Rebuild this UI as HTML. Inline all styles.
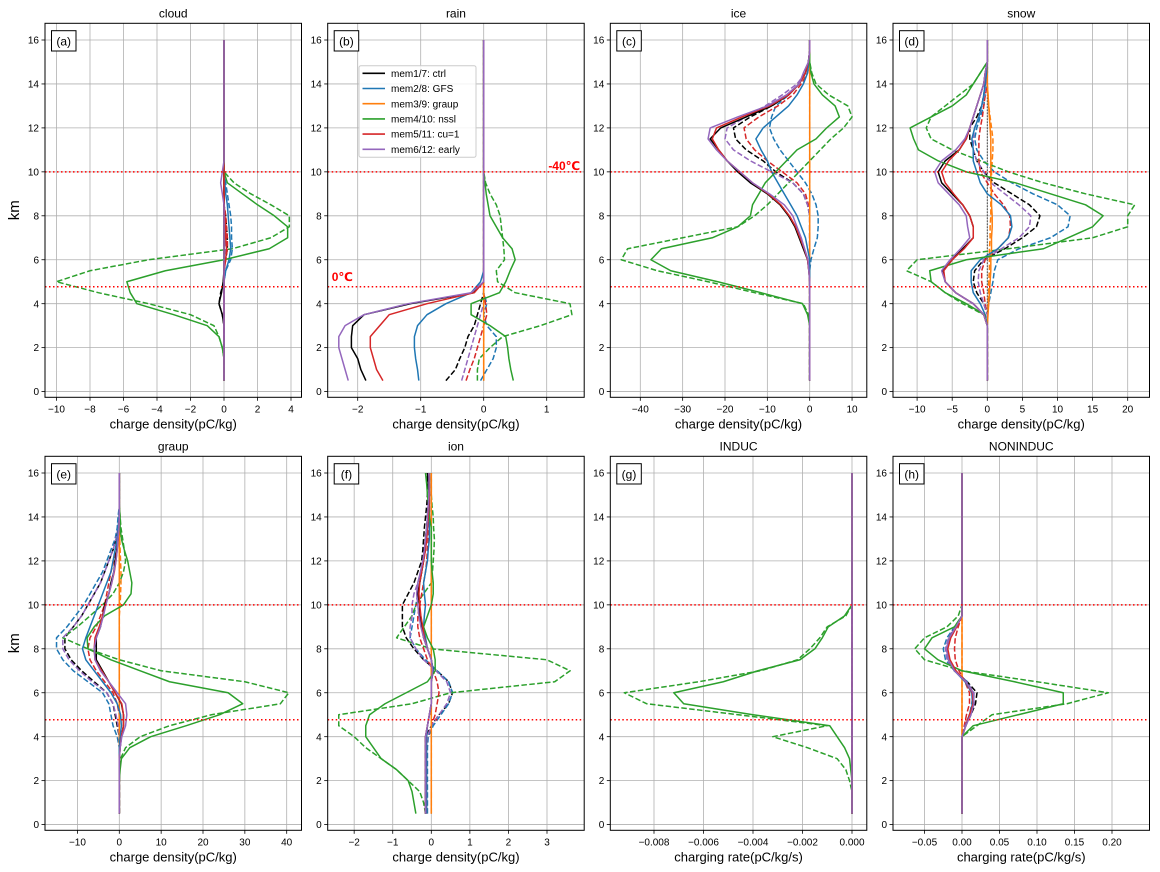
<!DOCTYPE html>
<html><head><meta charset="utf-8">
<style>
html,body{margin:0;padding:0;background:#fff;}
svg{display:block;font-family:"Liberation Sans","DejaVu Sans",sans-serif;}
</style></head>
<body>
<svg id="fig" width="1160" height="872" viewBox="0 0 1160 872" xmlns="http://www.w3.org/2000/svg"></svg>
<script>
// heights (km) for every profile
const heights = [0.5,1,1.5,2,2.5,3,3.5,4,4.5,5,5.5,6,6.5,7,7.5,8,8.5,9,9.5,10,10.5,11,11.5,12,12.5,13,13.5,14,14.5,15,15.5,16];
const memberLabels = ["mem1/7: ctrl","mem2/8: GFS","mem3/9: graup","mem4/10: nssl","mem5/11: cu=1","mem6/12: early"];
const panelTitles = ["cloud","rain","ice","snow","graup","ion","INDUC","NONINDUC"];
const panelLetters = ["(a)","(b)","(c)","(d)","(e)","(f)","(g)","(h)"];
const yTicks = [0,2,4,6,8,10,12,14,16];
const tickA = [-10,-8,-6,-4,-2,0,2,4];
const tickB = [-2,-1,0,1];
const tickC = [-40,-30,-20,-10,0,10];
const tickD = [-10,-5,0,5,10,15,20];
const tickE = [-10,0,10,20,30,40];
const tickF = [-2,-1,0,1,2,3];
const tickG = [-0.008,-0.006,-0.004,-0.002,0];
const tickH = [-0.05,0,0.05,0.10,0.15,0.20];
const freezeLevels = [10, 4.77];

// series order: ctrl(black), GFS(blue), graup(orange), nssl(green), cu=1(red), early(purple)
const cloudSolid = [
[0,0,0,0,0,0,-0.1,-0.3,-0.15,-0.05,0,0,0,0,0,0,0,0,0,0,0,0,0,0,0,0,0,0,0,0,0,0],
[0,0,0,0,0,0,0,0,0,0,0.1,0.3,0.4,0.35,0.3,0.25,0.2,0.1,0.05,0,0,0,0,0,0,0,0,0,0,0,0,0],
[0,0,0,0,0,0,0,0,0,0,0,0,0,0,0,0,0,0,0,0,0,0,0,0,0,0,0,0,0,0,0,0],
[0,0,0,-0.1,-0.3,-1,-3,-5.2,-5.6,-5.8,-3.5,0,2.7,3.8,3.8,3,2,1.1,0.2,0,0,0,0,0,0,0,0,0,0,0,0,0],
[0,0,0,0,0,0,0,0,0,0,0,0.1,0.15,0.1,0.1,0.05,0,0,0,0,0,0,0,0,0,0,0,0,0,0,0,0],
[0,0,0,0,0,0,0,0,0,0,0,0,0,0,0,0,0,-0.1,-0.2,-0.1,0,0,0,0,0,0,0,0,0,0,0,0]];
const cloudDashed = [
[0,0,0,0,0,0,-0.1,-0.3,-0.2,0,0,0.1,0.2,0.2,0.15,0.1,0,0,0,0,0,0,0,0,0,0,0,0,0,0,0,0],
[0,0,0,0,0,0,0,0,0,0,0.1,0.4,0.5,0.45,0.45,0.4,0.3,0.2,0.1,0,0,0,0,0,0,0,0,0,0,0,0,0],
[0,0,0,0,0,0,0,0,0,0,0,0,0,0,0,0,0,0,0,0,0,0,0,0,0,0,0,0,0,0,0,0],
[0,0,0,-0.1,-0.3,-0.6,-2,-4.5,-7.5,-10,-8,-4.5,0.5,2.8,3.9,3.9,2.8,1.6,0.6,0,0,0,0,0,0,0,0,0,0,0,0,0],
[0,0,0,0,0,0,0,0,0,0,0,0.1,0.2,0.2,0.15,0.1,0,0,0,0,0,0,0,0,0,0,0,0,0,0,0,0],
[0,0,0,0,0,0,0,0,0,0,0,0.1,0.1,0.1,0.1,0,0,0,0,0,0,0,0,0,0,0,0,0,0,0,0,0]];

const rainSolid = [
[-1.87,-1.95,-2.0,-2.1,-2.1,-2.08,-1.9,-1.16,-0.16,0,0,0,0,0,0,0,0,0,0,0,0,0,0,0,0,0,0,0,0,0,0,0],
[-1.03,-1.05,-1.08,-1.1,-1.1,-1.05,-0.9,-0.6,-0.2,-0.05,0,0,0,0,0,0,0,0,0,0,0,0,0,0,0,0,0,0,0,0,0,0],
[0,0,0,0,0,0,0,0,0,0,0,0,0,0,0,0,0,0,0,0,0,0,0,0,0,0,0,0,0,0,0,0],
[0.47,0.43,0.4,0.38,0.35,0.1,-0.2,-0.2,0.25,0.35,0.42,0.5,0.45,0.3,0.2,0.1,0.07,0.04,0.02,0,0,0,0,0,0,0,0,0,0,0,0,0],
[-1.6,-1.7,-1.75,-1.8,-1.8,-1.65,-1.5,-0.9,-0.15,0,0,0,0,0,0,0,0,0,0,0,0,0,0,0,0,0,0,0,0,0,0,0],
[-2.15,-2.2,-2.25,-2.3,-2.3,-2.2,-1.9,-1.2,-0.2,0,0,0,0,0,0,0,0,0,0,0,0,0,0,0,0,0,0,0,0,0,0,0]];
const rainDashed = [
[-0.6,-0.45,-0.38,-0.3,-0.25,-0.15,-0.1,-0.05,0,0,0,0,0,0,0,0,0,0,0,0,0,0,0,0,0,0,0,0,0,0,0,0],
[-0.05,0.05,0.15,0.2,0.2,0.05,0,0.05,0,0,0,0,0,0,0,0,0,0,0,0,0,0,0,0,0,0,0,0,0,0,0,0],
[0,0,0,0,0,0,0,0,0,0,0,0,0,0,0,0,0,0,0,0,0,0,0,0,0,0,0,0,0,0,0,0],
[-0.1,-0.1,-0.07,0.1,0.3,0.9,1.4,1.37,0.5,0.22,0.2,0.33,0.32,0.3,0.28,0.26,0.2,0.1,0.03,0,0,0,0,0,0,0,0,0,0,0,0,0],
[-0.28,-0.22,-0.15,-0.1,-0.05,0,0.05,0.03,0,0,0,0,0,0,0,0,0,0,0,0,0,0,0,0,0,0,0,0,0,0,0,0],
[-0.35,-0.3,-0.25,-0.2,-0.15,-0.1,-0.05,0,0,0,0,0,0,0,0,0,0,0,0,0,0,0,0,0,0,0,0,0,0,0,0,0]];

const iceSolid = [
[0,0,0,0,0,0,0,0,0,0,-0.2,-0.5,-1.5,-2.5,-3.5,-5,-7,-10,-14,-17,-19.5,-21.5,-23.5,-21,-15,-9,-5,-2.5,-1,-0.3,0,0],
[0,0,0,0,0,0,0,0,0,0,0,0,-0.5,-1,-2,-3,-4.5,-6,-7.5,-9,-10,-11.5,-12.7,-11,-8,-5,-3,-1.5,-0.5,-0.2,0,0],
[0,0,0,0,0,0,0,0,0,0,0,0,0,0,0,0,0,0,0,0,0,0,0,0,0,0,0,0,0,0,0,0],
[0,0,0,0,0,0,-0.5,-1.7,-11.5,-21.7,-32.8,-37.5,-35,-23,-17,-14,-13.5,-12,-10.5,-8,-5.5,-3,1.5,4,7,6,3,1,0.3,0,0,0],
[0,0,0,0,0,0,0,0,0,0,-0.2,-0.5,-1.3,-2.3,-3.3,-4.8,-6.8,-9.8,-13.5,-16.5,-19.5,-21.5,-23,-22,-16,-9.5,-5,-2.5,-1,-0.3,0,0],
[0,0,0,0,0,0,0,0,0,0,-0.2,-0.4,-1.2,-2,-3,-4,-6,-9.5,-13.5,-16.5,-19.5,-22,-24,-23.5,-17,-10,-5.5,-2.5,-1.5,-0.3,0,0]];
const iceDashed = [
[0,0,0,0,0,0,0,0,0,0,0,0,0,0,0,0,-0.5,-1.5,-4,-8,-11,-15,-17.5,-18,-14,-9,-5,-2.5,-1,-0.3,0,0],
[0,0,0,0,0,0,0,0,0,0,0,0.3,1,1.8,2,2,1.5,0.5,-1,-3,-5,-7,-8.5,-9.5,-9,-8,-5,-2.5,-1,-0.3,0,0],
[0,0,0,0,0,0,0,0,0,0,0,0,0,0,0,0,0,0,0,0,0,0,0,0,0,0,0,0,0,0,0,0],
[0,0,0,0,0,0,-0.3,-1.5,-13,-24,-36,-44.5,-43,-30,-17,-13,-10,-7.5,-5,-2.5,0,2.5,5,8,10,9,4.5,1.5,0.5,0,0,0],
[0,0,0,0,0,0,0,0,0,0,0,0,0,0,0,0,-0.3,-1,-3,-6.5,-10,-13,-15,-15.5,-12,-7.5,-4,-2,-0.5,0,0,0],
[0,0,0,0,0,0,0,0,0,0,0,0,0,0,0,0,-0.5,-1.5,-4,-9,-14,-18,-20,-19.5,-15,-10.5,-6.5,-3,-1,-0.3,0,0]];

const snowSolid = [
[0,0,0,0,0,0,-0.5,-2,-4.5,-6,-6.3,-5,-3.5,-2,-2,-2.5,-3.5,-5,-6.5,-7,-6,-4,-3,-2.5,-2,-1.5,-1,-0.5,-0.3,0,0,0],
[0,0,0,0,0,0,-0.3,-1,-2,-2.3,-2.3,-1,1.5,3,3.5,3.3,2,0,-1,-1.5,-2,-2,-2.2,-1.8,-1.2,-0.8,-0.5,-0.3,-0.1,0,0,0],
[0,0,0,0,0,0,0.1,0.2,0.3,0.4,0.5,0.5,0.6,0.6,0.7,0.7,0.6,0.6,0.5,0.5,0.5,0.5,0.5,0.4,0.3,0.2,0.1,0,0,0,0,0],
[0,0,0,0,0,0,-0.4,-3,-6,-8,-8.2,-3,8,11.5,15,16.5,14,9,4,-3,-7,-9.8,-10.5,-11,-8,-5,-3,-2,-1,0,0,0],
[0,0,0,0,0,0,-0.5,-2,-4.5,-6,-6.2,-5,-3.3,-2,-2,-2.5,-3.5,-4.8,-6,-6.5,-5.5,-4,-3,-2.5,-2,-1.5,-1,-0.5,-0.3,0,0,0],
[0,0,0,0,0,0,-0.5,-2,-4.5,-6,-6.5,-5.3,-3.8,-2.5,-2.8,-3,-4,-5.5,-7,-7.5,-6.5,-4.5,-3.2,-2.5,-2,-1.5,-1,-0.5,-0.3,0,0,0]];
const snowDashed = [
[0,0,0,0,0,0,0,-0.5,-1.5,-2,-1.8,-0.5,2.5,5,7,7.5,6,3.5,1,-0.5,-1.5,-2,-2.5,-2.5,-1.5,-0.8,-0.5,-0.3,0,0,0,0],
[0,0,0,0,0,0,0,0.2,0.5,0.8,1,1.5,4.5,9,11.5,11.8,10,6.5,3.5,1,-0.5,-1.5,-1.8,-1.5,-1,-0.5,-0.3,0,0,0,0,0],
[0,0,0,0,0,0,0,0.1,0.2,0.2,0.3,0.3,0.3,0.4,0.4,0.5,0.5,0.5,0.6,0.6,0.7,0.8,0.8,0.6,0.4,0.2,0.1,0,0,0,0,0],
[0,0,0,0,0,0,-0.5,-3.5,-6,-8,-11.5,-10,3,15,20,20,21,14,8,3,-1,-5,-8,-8.7,-8,-6,-4,-2,-1,0,0,0],
[0,0,0,0,0,0,0,-0.3,-0.5,-0.8,-0.8,-0.3,1.5,3,3.3,3.2,2.3,1,0,-1,-1.2,-1.2,-1.2,-1,-0.7,-0.5,-0.3,0,0,0,0,0],
[0,0,0,0,0,0,0,-0.5,-1,-1.3,-1.2,-0.5,2,4.5,6,6.2,4.5,2.5,0.5,-0.5,-1.5,-2,-2,-1.8,-1.2,-0.8,-0.4,-0.2,0,0,0,0]];

const graupSolid = [
[0,0,0,0,0,0,0.2,0.5,1,1,0.5,-1,-2.5,-4,-5.5,-5.5,-5.5,-4.5,-4,-3.5,-2.5,-2,-1.3,-1,-0.6,-0.3,-0.1,0,0,0,0,0],
[0,0,0,0,0,0,0,0.2,0.5,0.3,-0.5,-2,-4,-6,-8,-8.8,-8,-7,-6,-5,-4,-3,-2,-1.5,-1,-0.5,-0.3,-0.1,0,0,0,0],
[0,0,0,0,0,0,0,0,0,0,0,0,0,0,0,0,0,0,0,0,0,0,0,0,0,0,0,0,0,0,0,0],
[0,0,0,0,0.2,0.5,2.5,7.5,16,24,29.5,26,12,5,-2,-7.5,-7.7,-6,-3.5,1,2.8,3,2.5,2,1.2,0.5,0.2,0.2,0,0,0,0],
[0,0,0,0,0,0,0.2,0.5,1,1,0.6,-1,-2.5,-4.2,-5.8,-6,-5.8,-4.8,-4,-3.3,-2.5,-1.8,-1.2,-0.8,-0.5,-0.3,-0.1,0,0,0,0,0],
[0,0,0,0,0,0,0.2,0.6,1.5,1.8,1.5,-0.5,-2.5,-4.5,-5.8,-6,-5.5,-4.5,-3.8,-3.2,-2.5,-1.8,-1.3,-0.8,-0.5,-0.3,-0.1,0,0,0,0,0]];
const graupDashed = [
[0,0,0,0,0,0,0,0,-0.5,-1,-1.5,-3,-6,-9,-11.5,-13,-13,-11,-9,-7.5,-6,-4.5,-3.5,-2.5,-1.5,-0.8,-0.3,0,0,0,0,0],
[0,0,0,0,0,0,0,-0.5,-1.5,-2,-2.5,-4,-7.5,-11,-13.5,-15,-15,-12.5,-10.5,-8.5,-7,-5.5,-4,-3,-2,-1,-0.5,-0.3,0,0,0,0],
[0,0,0,0,0,0,0,0,0,0,0,0,0,0,0,0,0,0,0,0.2,0.3,0.4,0.4,0.3,0.2,0.1,0,0,0,0,0,0],
[0,0,0,0,0,0.3,1.5,5,12,22,38.5,40.5,30,10,0,-7.5,-13.5,-10,-7,-4,-1.5,0,1,1.5,1.2,0.8,0.4,0.2,0,0,0,0],
[0,0,0,0,0,0,0,0,0,0,-0.5,-1.5,-3.5,-5.5,-7,-7.5,-7,-5.5,-4.5,-3.5,-3,-2.5,-2,-1.3,-0.8,-0.5,-0.2,0,0,0,0,0],
[0,0,0,0,0,0,0,0,-0.3,-0.8,-1.5,-3,-6.5,-9.5,-12,-13.5,-13.5,-11,-9,-7.5,-6,-4.5,-3.5,-2.5,-1.5,-0.8,-0.3,0,0,0,0,0]];

const ionSolid = [
[-0.15,-0.15,-0.15,-0.15,-0.15,-0.15,-0.15,-0.15,-0.1,-0.05,0,0,0,0.05,0,-0.1,-0.2,-0.25,-0.3,-0.3,-0.35,-0.3,-0.25,-0.2,-0.18,-0.15,-0.12,-0.1,-0.08,-0.05,-0.08,-0.1],
[-0.12,-0.12,-0.12,-0.12,-0.12,-0.12,-0.12,-0.12,-0.1,-0.05,0,0,0,0.05,0,-0.1,-0.15,-0.2,-0.18,-0.15,-0.18,-0.2,-0.15,-0.1,-0.08,-0.05,-0.05,-0.05,-0.05,-0.05,-0.05,-0.05],
[0,0,0,0,0,0,0,0,0,0,0,0,0,0,0,0,0,0,0,0,0,0,0,0,0,0,0,0,0,0,0,0],
[-0.4,-0.45,-0.5,-0.6,-0.9,-1.3,-1.5,-1.7,-1.7,-1.6,-1.2,-0.65,-0.1,0.1,0.1,0.05,-0.1,-0.2,-0.1,0,0.05,0.05,0.02,0,0,0,0,-0.05,-0.07,-0.1,-0.12,-0.15],
[-0.15,-0.15,-0.15,-0.15,-0.15,-0.15,-0.15,-0.15,-0.1,-0.05,0,0,0,0.03,0,-0.1,-0.18,-0.22,-0.27,-0.3,-0.32,-0.3,-0.25,-0.2,-0.15,-0.12,-0.1,-0.08,-0.06,-0.05,-0.05,-0.05],
[-0.15,-0.15,-0.15,-0.15,-0.15,-0.15,-0.15,-0.15,-0.1,-0.05,0,0,0,0.03,0,-0.1,-0.2,-0.27,-0.32,-0.35,-0.38,-0.35,-0.28,-0.22,-0.18,-0.15,-0.12,-0.1,-0.08,-0.06,-0.06,-0.06]];
const ionDashed = [
[-0.15,-0.15,-0.15,-0.15,-0.15,-0.15,-0.15,-0.15,0,0.2,0.45,0.55,0.45,0.15,-0.2,-0.45,-0.65,-0.75,-0.75,-0.75,-0.6,-0.45,-0.35,-0.25,-0.22,-0.2,-0.18,-0.15,-0.12,-0.1,-0.1,-0.1],
[-0.1,-0.1,-0.1,-0.1,-0.1,-0.1,-0.1,-0.08,0.05,0.25,0.45,0.55,0.45,0.15,-0.15,-0.4,-0.55,-0.5,-0.45,-0.4,-0.35,-0.3,-0.25,-0.2,-0.15,-0.12,-0.1,-0.08,-0.06,-0.05,-0.05,-0.05],
[0,0,0,0,0,0,0,0,0,0,0,0,0,0,0,0,0,0,0,0,0,0,0,0,0,0,0,0,0,0,0,0],
[-0.15,-0.2,-0.3,-0.6,-0.9,-1.3,-1.7,-2,-2.4,-2.4,-0.5,0.5,3.2,3.6,3,0,-0.9,-0.7,-0.5,-0.4,-0.2,0,0.03,0.05,0.07,0.08,0.06,0.05,0.02,0,0,0],
[-0.12,-0.12,-0.12,-0.12,-0.12,-0.12,-0.12,-0.1,0,0.1,0.15,0.2,0.15,0.05,-0.1,-0.2,-0.3,-0.35,-0.35,-0.3,-0.25,-0.2,-0.15,-0.12,-0.1,-0.08,-0.06,-0.05,-0.05,-0.05,-0.05,-0.05],
[-0.13,-0.13,-0.13,-0.13,-0.13,-0.13,-0.13,-0.1,0,0.2,0.4,0.5,0.4,0.12,-0.2,-0.4,-0.55,-0.55,-0.5,-0.5,-0.45,-0.35,-0.28,-0.22,-0.18,-0.15,-0.12,-0.1,-0.08,-0.06,-0.06,-0.06]];

const inducSolid = [
[0,0,0,0,0,0,0,0,0,0,0,0,0,0,0,0,0,0,0,0,0,0,0,0,0,0,0,0,0,0,0,0],
[0,0,0,0,0,0,0,0,0,0,0,0,0,0,0,0,0,0,0,0,0,0,0,0,0,0,0,0,0,0,0,0],
[0,0,0,0,0,0,0,0,0,0,0,0,0,0,0,0,0,0,0,0,0,0,0,0,0,0,0,0,0,0,0,0],
[0,0,0,0,-0.00005,-0.0001,-0.0003,-0.0006,-0.0009,-0.004,-0.0068,-0.0072,-0.0052,-0.0038,-0.0021,-0.0015,-0.0012,-0.00096,-0.0003,0,0,0,0,0,0,0,0,0,0,0,0,0],
[0,0,0,0,0,0,0,0,0,0,0,0,0,0,0,0,0,0,0,0,0,0,0,0,0,0,0,0,0,0,0,0],
[0,0,0,0,0,0,0,0,0,0,0,0,0,0,0,0,0,0,0,0,0,0,0,0,0,0,0,0,0,0,0,0]];
const inducDashed = [
[0,0,0,0,0,0,0,0,0,0,0,0,0,0,0,0,0,0,0,0,0,0,0,0,0,0,0,0,0,0,0,0],
[0,0,0,0,0,0,0,0,0,0,0,0,0,0,0,0,0,0,0,0,0,0,0,0,0,0,0,0,0,0,0,0],
[0,0,0,0,0,0,0,0,0,0,0,0,0,0,0,0,0,0,0,0,0,0,0,0,0,0,0,0,0,0,0,0],
[0,0,0,-0.0001,-0.00025,-0.0006,-0.0018,-0.0032,-0.001,-0.0046,-0.0083,-0.0092,-0.0062,-0.0037,-0.0022,-0.0017,-0.0013,-0.001,-0.00025,0,0,0,0,0,0,0,0,0,0,0,0,0],
[0,0,0,0,0,0,0,0,0,0,0,0,0,0,0,0,0,0,0,0,0,0,0,0,0,0,0,0,0,0,0,0],
[0,0,0,0,0,0,0,0,0,0,0,0,0,0,0,0,0,0,0,0,0,0,0,0,0,0,0,0,0,0,0,0]];

const nonSolid = [
[0,0,0,0,0,0,0,0,0.005,0.01,0.016,0.015,0.005,-0.01,-0.018,-0.02,-0.017,-0.008,0,0,0,0,0,0,0,0,0,0,0,0,0,0],
[0,0,0,0,0,0,0,0,0.005,0.01,0.014,0.013,0.004,-0.01,-0.017,-0.02,-0.016,-0.008,0,0,0,0,0,0,0,0,0,0,0,0,0,0],
[0,0,0,0,0,0,0,0,0,0,0,0,0,0,0,0,0,0,0,0,0,0,0,0,0,0,0,0,0,0,0,0],
[0,0,0,0,0,0,0,0,0.015,0.075,0.135,0.135,0.07,0,-0.032,-0.05,-0.04,-0.01,0,0,0,0,0,0,0,0,0,0,0,0,0,0],
[0,0,0,0,0,0,0,0,0.005,0.01,0.015,0.014,0.005,-0.008,-0.016,-0.019,-0.015,-0.007,0,0,0,0,0,0,0,0,0,0,0,0,0,0],
[0,0,0,0,0,0,0,0,0.005,0.012,0.016,0.015,0.005,-0.01,-0.018,-0.021,-0.017,-0.008,0,0,0,0,0,0,0,0,0,0,0,0,0,0]];
const nonDashed = [
[0,0,0,0,0,0,0,0,0.005,0.012,0.018,0.02,0.007,-0.01,-0.018,-0.02,-0.017,-0.008,0,0,0,0,0,0,0,0,0,0,0,0,0,0],
[0,0,0,0,0,0,0,0,0.004,0.01,0.013,0.015,0.007,-0.01,-0.022,-0.025,-0.02,-0.01,0,0,0,0,0,0,0,0,0,0,0,0,0,0],
[0,0,0,0,0,0,0,0,0,0,0,0,0,0,0,0,0,0,0,0,0,0,0,0,0,0,0,0,0,0,0,0],
[0,0,0,0,0,0,0,0,0.02,0.04,0.14,0.195,0.1,0,-0.05,-0.063,-0.05,-0.02,-0.005,0,0,0,0,0,0,0,0,0,0,0,0,0],
[0,0,0,0,0,0,0,0,0.003,0.006,0.01,0.01,0.004,-0.004,-0.009,-0.01,-0.009,-0.005,0,0,0,0,0,0,0,0,0,0,0,0,0,0],
[0,0,0,0,0,0,0,0,0.004,0.01,0.015,0.016,0.006,-0.01,-0.02,-0.022,-0.018,-0.009,0,0,0,0,0,0,0,0,0,0,0,0,0,0]];

const solidSets = [cloudSolid, rainSolid, iceSolid, snowSolid, graupSolid, ionSolid, inducSolid, nonSolid];
const dashedSets = [cloudDashed, rainDashed, iceDashed, snowDashed, graupDashed, ionDashed, inducDashed, nonDashed];
const tickSets = [tickA, tickB, tickC, tickD, tickE, tickF, tickG, tickH];

// ---------- layout / style (not data) ----------
const colors = ["#000000","#1f77b4","#ff7f0e","#2ca02c","#d62728","#9467bd"];
const lefts = [45, 327.7, 610.3, 893];
const W = 256.5;
const rowTop = [23.3, 456.3], rowH = 374;
const yMin = -0.26, yMax = 16.76;
const calib = [[0,224,4,291],[0,483.7,-2,357.7],[0,809.7,-40,640.3],[0,987.3,20,1127.7],
  [0,119.3,40,286.7],[0,431.3,3,547],[0,852,-0.008,654],[0,962,0.2,1112]];
const xLabels = ["charge density(pC/kg)","charge density(pC/kg)","charge density(pC/kg)","charge density(pC/kg)",
  "charge density(pC/kg)","charge density(pC/kg)","charging rate(pC/kg/s)","charging rate(pC/kg/s)"];
const tickFmt = [0,0,0,0,0,0,3,2];
const drawOrder = [2,0,1,3,4,5];

const NS = "http://www.w3.org/2000/svg";
const svg = document.getElementById('fig');
function mk(tag, attrs, parent){ const e=document.createElementNS(NS,tag); for(const k in attrs) e.setAttribute(k,attrs[k]); (parent||svg).appendChild(e); return e; }
function fmt(v, d){ let s = d ? v.toFixed(d) : String(Math.round(v)); return s.replace('-', '\u2212'); }

for (let p=0; p<8; p++){
  const col = p%4, row = Math.floor(p/4);
  const x0 = lefts[col], y0 = rowTop[row];
  const c = calib[p];
  const sc = (c[3]-c[1])/(c[2]-c[0]);
  const X = v => c[1] + (v - c[0])*sc;
  const Y = h => y0 + rowH - (h - yMin)/(yMax - yMin)*rowH;
  const g = mk('g', {});
  
  
  const clipId = 'clip'+p;
  const cp = mk('clipPath',{id:clipId}, g);
  mk('rect',{x:x0,y:y0,width:W,height:rowH},cp);
  const grid = mk('g',{stroke:'#b0b0b0','stroke-width':0.8}, g);
  
  
  yTicks.forEach(t=>{ mk('line',{x1:x0,x2:x0+W,y1:Y(t),y2:Y(t)},grid); });
  tickSets[p].forEach(t=>{ mk('line',{x1:X(t),x2:X(t),y1:y0,y2:y0+rowH},grid); });
  const lines = mk('g',{'clip-path':'url(#'+clipId+')',fill:'none','stroke-width':1.5,'stroke-linejoin':'round'}, g);
  // zero reference dotted line (underneath series)
  const zl = mk('line',{x1:X(0),x2:X(0),y1:Y(heights[0]),y2:Y(16),stroke:'#000','stroke-width':1,'stroke-dasharray':'1,2'}, lines);
  
  
  const drawSet = (set, dashed) => drawOrder.forEach(s => {
    const vals = set[s];
    const d = vals.map((v,i)=>(i?'L':'M')+X(v).toFixed(2)+','+Y(heights[i]).toFixed(2)).join('');
    const path = mk('path',{d:d,stroke:colors[s]}, lines);
    if (dashed) path.setAttribute('stroke-dasharray','5.5,2.4');
    
    
  });
  drawSet(dashedSets[p], true);
  drawSet(solidSets[p], false);
  freezeLevels.forEach(h=>{
    const l = mk('line',{x1:x0,x2:x0+W,y1:Y(h),y2:Y(h),stroke:'#ff0000','stroke-width':1.5,'stroke-dasharray':'1.5,2.5'}, g);
    
    
  });
  const box = mk('rect',{x:x0,y:y0,width:W,height:rowH,fill:'none',stroke:'#000','stroke-width':1}, g);
  
  
  yTicks.forEach(t=>{
    mk('line',{x1:x0-3.5,x2:x0,y1:Y(t),y2:Y(t),stroke:'#000','stroke-width':0.8}, g);
    const tx = mk('text',{x:x0-6,y:Y(t)+3.6,'font-size':10,'text-anchor':'end',fill:'#000'}, g);
    tx.textContent = t;
    
    
  });
  tickSets[p].forEach(t=>{
    mk('line',{x1:X(t),x2:X(t),y1:y0+rowH,y2:y0+rowH+3.5,stroke:'#000','stroke-width':0.8}, g);
    const tx = mk('text',{x:X(t),y:y0+rowH+15,'font-size':10,'text-anchor':'middle',fill:'#000'}, g);
    tx.textContent = fmt(t, tickFmt[p]);
    
    
  });
  const title = mk('text',{x:x0+W/2,y:y0-6,'font-size':12,'text-anchor':'middle',fill:'#000'}, g);
  title.textContent = panelTitles[p];
  
  
  const xl = mk('text',{x:x0+W/2,y:y0+rowH+31,'font-size':13,'text-anchor':'middle',fill:'#000'}, g);
  xl.textContent = xLabels[p];
  
  
  const lb = mk('rect',{x:x0+6.5,y:y0+7.4,width:24.5,height:20.3,fill:'#fff',stroke:'#000','stroke-width':1}, g);
  
  
  const lt = mk('text',{x:x0+18.7,y:y0+22,'font-size':12,'text-anchor':'middle',fill:'#000'}, g);
  lt.textContent = panelLetters[p];
  
  
  if (col===0){
    const yl = mk('text',{x:19,y:y0+rowH/2,'font-size':15,'text-anchor':'middle',fill:'#000',transform:'rotate(-90 19 '+(y0+rowH/2)+')'}, g);
    yl.textContent = 'km';
    
    
  }
  if (p===1){
    const a1 = mk('text',{x:x0+W-4,y:Y(10)-2,'font-size':12,'font-weight':'bold','text-anchor':'end',fill:'#ff0000'}, g);
    a1.textContent = '-40\u2103';
    
    
    const a2 = mk('text',{x:x0+4,y:Y(4.77)-6,'font-size':12,'font-weight':'bold',fill:'#ff0000'}, g);
    a2.textContent = '0\u2103';
    
    
    const lg = mk('g',{}, g);
    
    
    mk('rect',{x:359,y:65.7,width:117,height:91.6,rx:2,fill:'#fff','fill-opacity':0.85,stroke:'#cccccc','stroke-width':1}, lg);
    memberLabels.forEach((m,i)=>{
      const yy = 73.3 + i*15.2;
      const ln = mk('line',{x1:362.5,x2:385,y1:yy,y2:yy,stroke:colors[i],'stroke-width':1.6}, lg);
      
      
      const t = mk('text',{x:391,y:yy+3.6,'font-size':10,fill:'#000'}, lg);
      t.textContent = m;
      
      
    });
  }
}
</script>
</body></html>
